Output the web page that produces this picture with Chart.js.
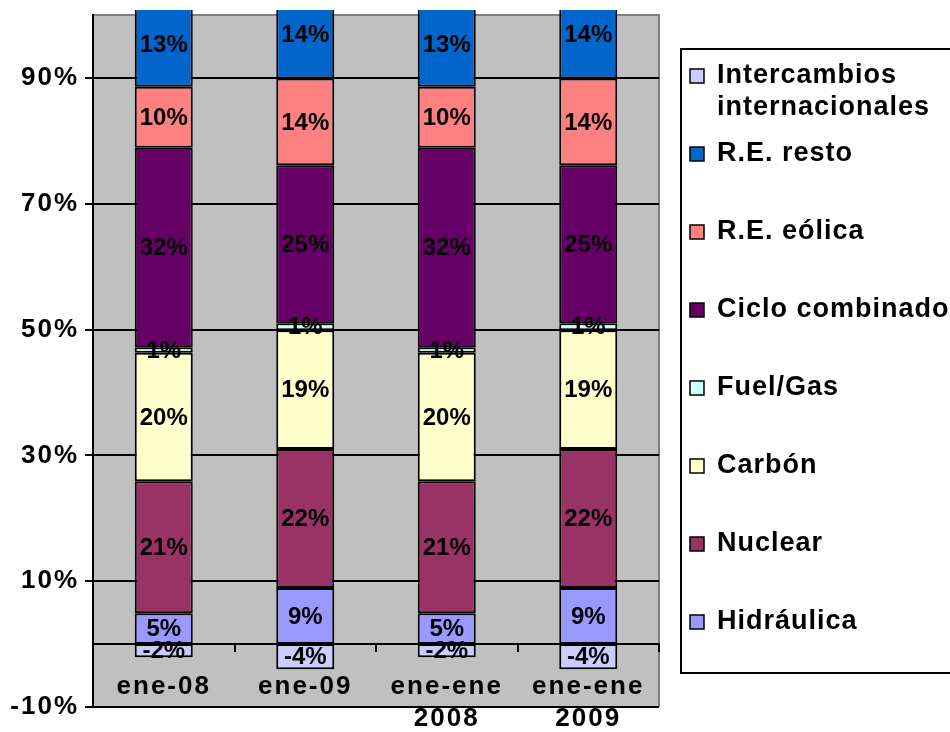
<!DOCTYPE html>
<html>
<head>
<meta charset="utf-8">
<script src="https://cdn.jsdelivr.net/npm/chart.js@4"></script>
<style>
body { margin: 0; background: #fff; }
#chart { display: block; }
</style>
</head>
<body>
<canvas id="chart" width="950" height="732"></canvas>
<script>
var categories = ['ene-08', 'ene-09', ['ene-ene', '2008'], ['ene-ene', '2009']];
var yTicks = [-10, 10, 30, 50, 70, 90];

// values in %
var hidraulica   = [4.9, 8.9, 4.9, 8.9];
var nuclear      = [21.0, 22.1, 21.0, 22.1];
var carbon       = [20.4, 18.9, 20.4, 18.9];
var fuelGas      = [0.9, 1.1, 0.9, 1.1];
var ciclo        = [31.7, 25.1, 31.7, 25.1];
var eolica       = [9.7, 13.8, 9.7, 13.8];
var resto        = [13.4, 14.1, 13.4, 14.1];
var intercambios = [-2.1, -4.0, -2.1, -4.0];

var FONT = "'Liberation Sans', Arial, sans-serif";
Chart.defaults.color = '#000';
Chart.defaults.font.family = FONT;

function ds(label, values, color) {
  return {
    label: label,
    data: values,
    backgroundColor: color,
    borderColor: '#000',
    borderWidth: 2,
    borderSkipped: false,
    barPercentage: 0.41,
    categoryPercentage: 1,
    clip: {left: 0, top: 5, right: 0, bottom: 0}
  };
}

var data = {
  labels: categories,
  datasets: [
    ds('Hidráulica', hidraulica, '#9999FF'),
    ds('Nuclear', nuclear, '#993366'),
    ds('Carbón', carbon, '#FFFFCC'),
    ds('Fuel/Gas', fuelGas, '#CCFFFF'),
    ds('Ciclo combinado', ciclo, '#660066'),
    ds('R.E. eólica', eolica, '#FF8080'),
    ds('R.E. resto', resto, '#0066CC'),
    ds('Intercambios\ninternacionales', intercambios, '#CCCCFF')
  ]
};

// grey plot area with grey top/right frame, wider axis lettering
var plotBg = {
  id: 'plotBg',
  beforeDraw: function (chart) {
    var a = chart.chartArea, ctx = chart.ctx;
    ctx.save();
    ctx.fillStyle = '#C0C0C0';
    ctx.fillRect(a.left, a.top, a.right - a.left, a.bottom - a.top);
    ctx.strokeStyle = '#808080';
    ctx.lineWidth = 2;
    ctx.beginPath();
    ctx.moveTo(a.left, a.top);
    ctx.lineTo(a.right, a.top);
    ctx.lineTo(a.right, a.bottom);
    ctx.stroke();
    ctx.restore();
    ctx.letterSpacing = '2px';
  },
  afterDraw: function (chart) {
    chart.ctx.letterSpacing = '0px';
  }
};

// percentage in the middle of every segment
var segLabels = {
  id: 'segLabels',
  afterDatasetsDraw: function (chart) {
    var ctx = chart.ctx;
    ctx.save();
    ctx.letterSpacing = '0px';
    ctx.font = 'bold 24px ' + FONT;
    ctx.fillStyle = '#000';
    ctx.textAlign = 'center';
    ctx.textBaseline = 'middle';
    chart.data.datasets.forEach(function (d, i) {
      chart.getDatasetMeta(i).data.forEach(function (bar, j) {
        var p = bar.getProps(['x', 'y', 'base'], true);
        ctx.fillText(Math.round(d.data[j]) + '%', p.x, (p.y + p.base) / 2 + 1);
      });
    });
    ctx.restore();
  }
};

// boxed legend on the right, last series first
var sideLegend = {
  id: 'sideLegend',
  afterDraw: function (chart) {
    var ctx = chart.ctx;
    ctx.save();
    ctx.letterSpacing = '1px';
    ctx.strokeStyle = '#000';
    ctx.lineWidth = 2;
    ctx.strokeRect(681, 49, 300, 624);
    ctx.font = 'bold 27px ' + FONT;
    ctx.textBaseline = 'middle';
    var list = chart.data.datasets.slice().reverse();
    list.forEach(function (d, i) {
      var y = 76 + i * 78;
      ctx.fillStyle = d.backgroundColor;
      ctx.fillRect(690, y - 7, 14, 14);
      ctx.lineWidth = 1.5;
      ctx.strokeRect(690, y - 7, 14, 14);
      ctx.fillStyle = '#000';
      d.label.split('\n').forEach(function (line, k) {
        ctx.fillText(line, 717, y + k * 32);
      });
    });
    ctx.restore();
  }
};

var context = document.getElementById('chart').getContext('2d');
var chart = new Chart(context, {
  type: 'bar',
  data: data,
  plugins: [plotBg, segLabels, sideLegend],
  options: {
    responsive: false,
    animation: false,
    layout: { padding: { left: 0, top: 15, right: 291, bottom: 25 } },
    plugins: { legend: { display: false }, tooltip: { enabled: false } },
    scales: {
      x: {
        stacked: true,
        position: { y: 0 },
        grid: { offset: true, drawOnChartArea: false, tickLength: 7, color: '#000', lineWidth: 2 },
        border: { color: '#000', width: 2 },
        ticks: { font: { size: 26, weight: 'bold', lineHeight: 1.22 }, padding: 20, maxRotation: 0 }
      },
      y: {
        stacked: true,
        min: -10,
        max: 100,
        afterBuildTicks: function (scale) {
          scale.ticks = yTicks.map(function (v) { return { value: v }; });
        },
        afterFit: function (scale) {
          scale.width = 93;
          scale.paddingTop = 0;
          scale.paddingBottom = 0;
        },
        grid: { color: '#000', lineWidth: 2, tickLength: 8 },
        border: { color: '#000', width: 2 },
        ticks: {
          font: { size: 26, weight: 'bold' },
          padding: 6,
          callback: function (v) { return v + '%'; }
        }
      }
    }
  }
});
</script>
</body>
</html>
